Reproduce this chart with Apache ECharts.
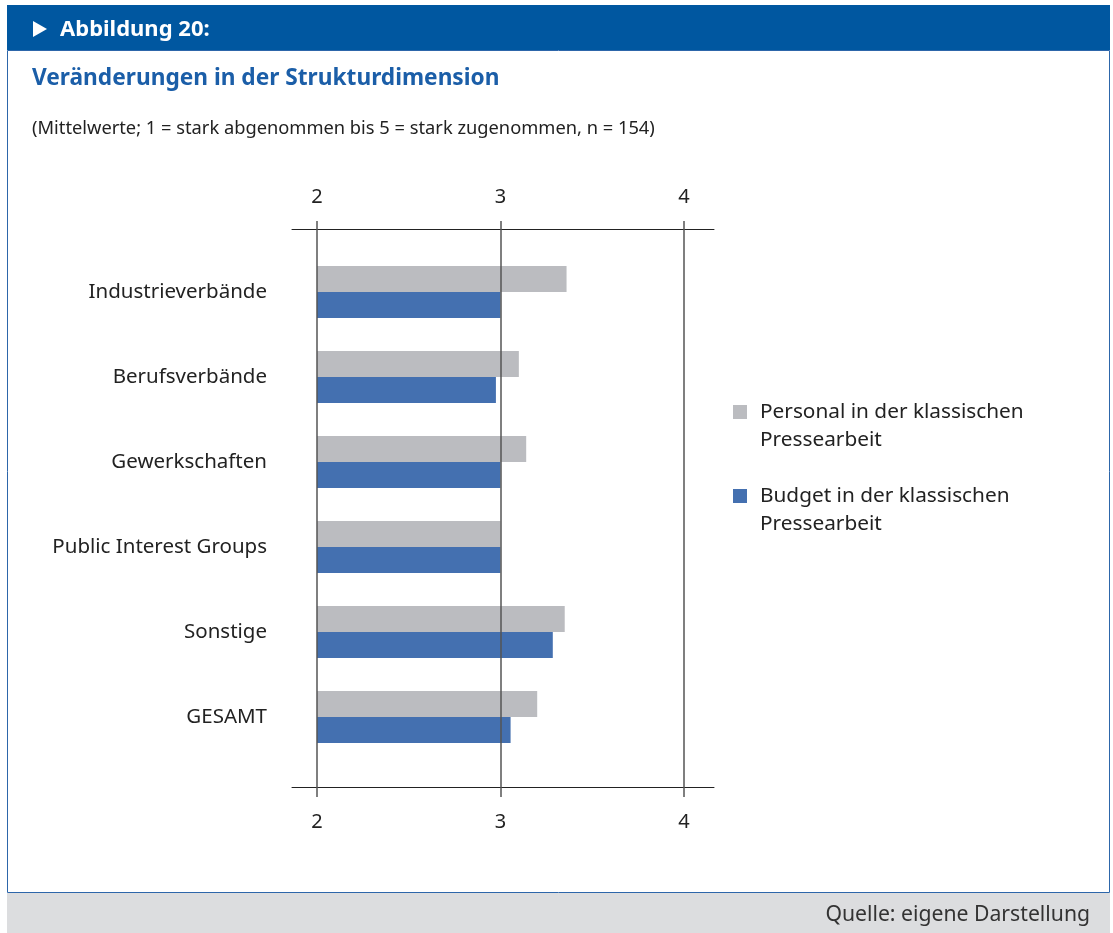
<!DOCTYPE html>
<html><head><meta charset="utf-8">
<script src="https://cdn.jsdelivr.net/npm/echarts@6/dist/echarts.min.js"></script>
<style>html,body{margin:0;padding:0;background:#fff}#c{width:1113px;height:933px}</style>
</head><body><div id="c"></div>
<script>
const categories = ['Industrieverbände','Berufsverbände','Gewerkschaften','Public Interest Groups','Sonstige','GESAMT'];
const personal = [3.36, 3.10, 3.14, 3.00, 3.35, 3.20];
const budget   = [3.00, 2.975, 3.00, 3.00, 3.285, 3.055];
const xTicks = [2, 3, 4];
const seriesNames = ['Personal in der klassischen\nPressearbeit', 'Budget in der klassischen\nPressearbeit'];
const headerText = 'Abbildung 20:';
const titleText = 'Veränderungen in der Strukturdimension';
const subtitleText = '(Mittelwerte; 1 = stark abgenommen bis 5 = stark zugenommen, n = 154)';
const sourceText = 'Quelle: eigene Darstellung';

const FONT = '"Noto Sans", "Open Sans", sans-serif';
const chart = echarts.init(document.getElementById('c'), null, {renderer: 'canvas'});
const xMin = xTicks[0], xMax = xTicks[xTicks.length - 1];
// legend icon: 14px square placed at the first text line, with invisible padding points
const legendIcon = 'path://M0,0L0,0Z M0,7L14,7L14,21L0,21Z M22,56L22,56Z';

chart.setOption({
  backgroundColor: '#ffffff',
  animation: false,
  textStyle: {fontFamily: FONT},
  graphic: [
    {type: 'rect', shape: {x: 7, y: 5, width: 1103, height: 45}, style: {fill: '#0057a0'}, z: 0},
    {type: 'rect', shape: {x: 7.5, y: 50.5, width: 1102, height: 842}, style: {fill: null, stroke: '#2d66aa', lineWidth: 1}, z: 0},
    {type: 'rect', shape: {x: 7, y: 893, width: 1103, height: 40}, style: {fill: '#dcdddf'}, z: 0},
    {type: 'polygon', shape: {points: [[33, 21], [33, 37], [47, 29]]}, style: {fill: '#ffffff'}, z: 1},
    {type: 'text', x: 60, y: 30, style: {text: headerText, fill: '#ffffff', font: 'bold 22px ' + FONT, verticalAlign: 'middle'}, z: 1},
    {type: 'text', x: 32, y: 79, style: {text: titleText, fill: '#1b5ea8', font: 'bold 22.7px ' + FONT, verticalAlign: 'middle'}, z: 1},
    {type: 'text', x: 32, y: 129, style: {text: subtitleText, fill: '#222222', font: '18.3px ' + FONT, verticalAlign: 'middle'}, z: 1},
    {type: 'text', x: 1090, y: 915, style: {text: sourceText, fill: '#333333', font: '21.2px ' + FONT, align: 'right', verticalAlign: 'middle'}, z: 1}
  ],
  grid: [
    {left: 292, width: 422, top: 229, height: 558},
    {left: 317, width: 367, top: 221, height: 576},
    {left: 317, width: 367, top: 249.5, height: 510}
  ],
  xAxis: [
    {gridIndex: 0, type: 'value', position: 'top', min: 0, max: 1, axisLine: {show: true, onZero: false, lineStyle: {color: '#222', width: 1}}, axisTick: {show: false}, axisLabel: {show: false}, splitLine: {show: false}},
    {gridIndex: 0, type: 'value', position: 'bottom', min: 0, max: 1, axisLine: {show: true, onZero: false, lineStyle: {color: '#222', width: 1}}, axisTick: {show: false}, axisLabel: {show: false}, splitLine: {show: false}},
    {gridIndex: 1, type: 'value', position: 'top', min: xMin, max: xMax, interval: 1, z: 10,
      axisLine: {show: false, onZero: false}, axisTick: {show: false},
      axisLabel: {show: true, margin: 14, fontSize: 20, color: '#222', fontFamily: FONT},
      splitLine: {show: true, lineStyle: {color: '#555', width: 1.5}}},
    {gridIndex: 1, type: 'value', position: 'bottom', min: xMin, max: xMax, interval: 1,
      axisLine: {show: false, onZero: false}, axisTick: {show: false},
      axisLabel: {show: true, margin: 15, fontSize: 20, color: '#222', fontFamily: FONT},
      splitLine: {show: false}},
    {gridIndex: 2, type: 'value', min: xMin, max: xMax, show: false}
  ],
  yAxis: [
    {gridIndex: 0, type: 'value', min: 0, max: 1, show: false},
    {gridIndex: 1, type: 'value', min: 0, max: 1, show: false},
    {gridIndex: 2, type: 'category', data: categories, inverse: true,
      axisLine: {show: false}, axisTick: {show: false}, splitLine: {show: false},
      axisLabel: {margin: 50, fontSize: 20.5, color: '#222', fontFamily: FONT, padding: [3, 0, 0, 0]}}
  ],
  legend: {
    orient: 'vertical', left: 728, top: 393, itemWidth: 22, itemHeight: 56, itemGap: 28,
    icon: legendIcon, selectedMode: false,
    textStyle: {fontSize: 20.8, color: '#222', lineHeight: 28, fontFamily: FONT},
    data: seriesNames
  },
  series: [
    {name: seriesNames[0], type: 'bar', xAxisIndex: 4, yAxisIndex: 2, data: personal, barWidth: 26, barGap: '0%', itemStyle: {color: '#bbbcc0'}},
    {name: seriesNames[1], type: 'bar', xAxisIndex: 4, yAxisIndex: 2, data: budget, barWidth: 26, barGap: '0%', itemStyle: {color: '#4470b0'}}
  ]
});
</script></body></html>
